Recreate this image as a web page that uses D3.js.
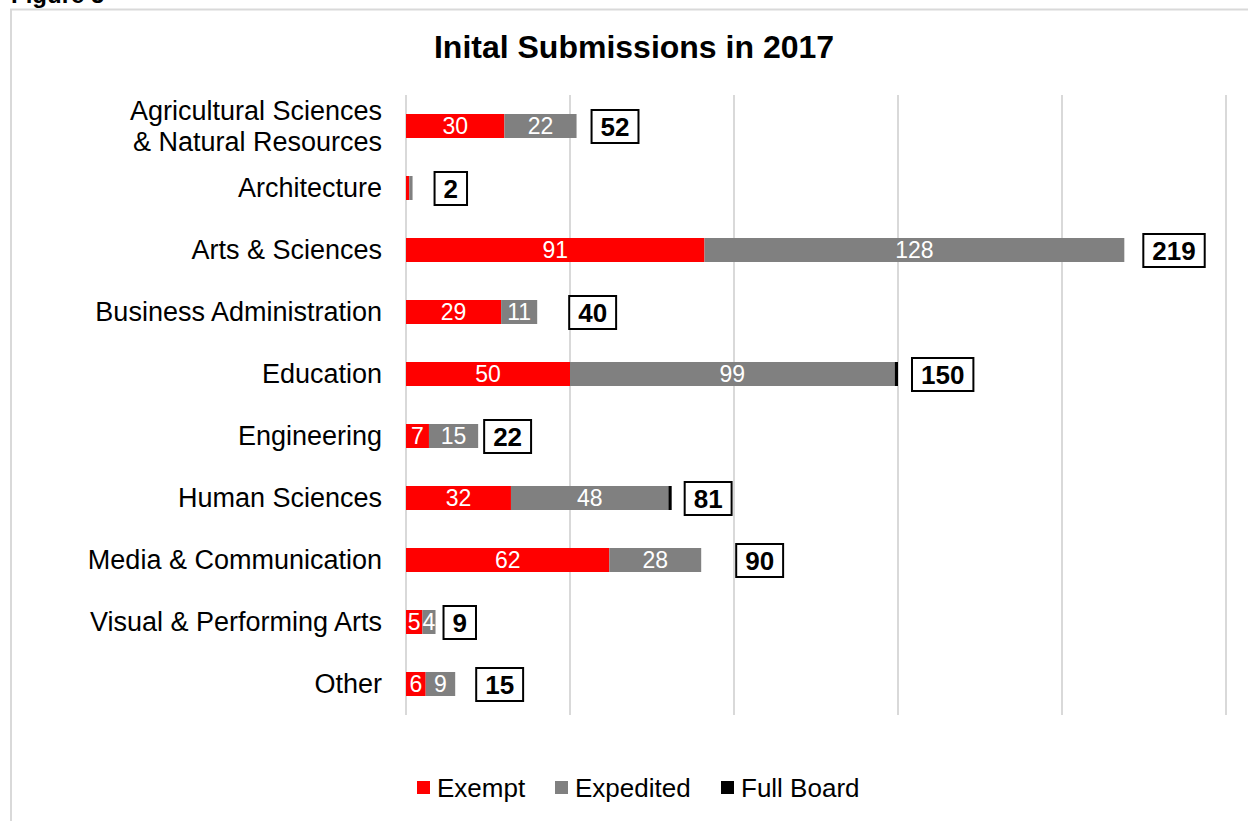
<!DOCTYPE html>
<html>
<head>
<meta charset="utf-8">
<script src="https://cdn.jsdelivr.net/npm/d3@7"></script>
<style>
  body { margin: 0; background: #fff; }
  text { font-family: "Liberation Sans", Arial, sans-serif; }
</style>
</head>
<body>
<svg id="chart" width="1248" height="821"></svg>
<script>
// ====================================================================
// data
var categories = [
  "Agricultural Sciences\n& Natural Resources",
  "Architecture",
  "Arts & Sciences",
  "Business Administration",
  "Education",
  "Engineering",
  "Human Sciences",
  "Media & Communication",
  "Visual & Performing Arts",
  "Other"
];
var exempt    = [30, 1, 91, 29, 50, 7, 32, 62, 5, 6];
var expedited = [22, 1, 128, 11, 99, 15, 48, 28, 4, 9];
var fullBoard = [0, 0, 0, 0, 1, 0, 1, 0, 0, 0];
var seriesNames = ["Exempt", "Expedited", "Full Board"];
var xTicks = [0, 50, 100, 150, 200, 250];

// ====================================================================
// layout
var svg = d3.select("#chart");
var plot_left = 406, plot_right = 1226, plot_top = 95, plot_bottom = 715;
var bar_height = 24;
// the total boxes sit a bit right of each bar, moved by hand in the original
var total_gap = [15, 22, 19, 32, 14, 6, 13, 35, 8, 21];
var colors = ["#ff0000", "#808080", "#000000"];

var x = d3.scaleLinear().domain([0, 250]).range([plot_left, plot_right]);
var y = d3.scaleBand().domain(categories).range([plot_top, plot_bottom]);

// frame
svg.append("path")
  .attr("d", "M11,830 L11,9.5 L1260,9.5")
  .attr("fill", "none")
  .attr("stroke", "#d9d9d9")
  .attr("stroke-width", 2);

svg.append("text")
  .attr("x", 11).attr("y", 3)
  .style("font-size", "24px").style("font-weight", "bold")
  .text("Figure 5");

svg.append("text")
  .attr("x", 634).attr("y", 58)
  .attr("text-anchor", "middle")
  .style("font-size", "32px").style("font-weight", "bold")
  .text("Inital Submissions in 2017");

// gridlines
svg.append("g").selectAll("line")
  .data(xTicks)
  .enter().append("line")
  .attr("x1", function(d) { return x(d); })
  .attr("x2", function(d) { return x(d); })
  .attr("y1", plot_top).attr("y2", plot_bottom)
  .attr("stroke", "#d9d9d9").attr("stroke-width", 2);

// category labels
var cat_group = svg.append("g");
categories.forEach(function(c) {
  var lines = c.split("\n");
  var cy = y(c) + y.bandwidth() / 2;
  var t = cat_group.append("text")
    .attr("x", 382)
    .attr("text-anchor", "end")
    .style("font-size", "27px")
    .attr("fill", "#000");
  lines.forEach(function(l, i) {
    t.append("tspan")
      .attr("x", 382)
      .attr("y", cy + 9 + (i - (lines.length - 1) / 2) * 31)
      .text(l);
  });
});

// stacked bars
var rows = categories.map(function(c, i) {
  return { cat: c, vals: [exempt[i], expedited[i], fullBoard[i]], gap: total_gap[i] };
});

var bar_group = svg.append("g");
rows.forEach(function(r) {
  var start = 0;
  var cy = y(r.cat) + y.bandwidth() / 2;
  r.vals.forEach(function(v, k) {
    if (v > 0) {
      bar_group.append("rect")
        .attr("x", x(start))
        .attr("y", cy - bar_height / 2)
        .attr("width", x(start + v) - x(start))
        .attr("height", bar_height)
        .attr("fill", colors[k]);
      if (v >= 2) {
        bar_group.append("text")
          .attr("x", (x(start) + x(start + v)) / 2)
          .attr("y", cy + 8)
          .attr("text-anchor", "middle")
          .attr("fill", "#fff")
          .style("font-size", "23px")
          .text(v);
      }
    }
    start += v;
  });

  // total box
  var bx = x(start) + r.gap;
  var lbl = bar_group.append("text")
    .attr("y", cy + 9.5)
    .style("font-size", "26px").style("font-weight", "bold")
    .text(start);
  var w = lbl.node().getComputedTextLength();
  bar_group.insert("rect", "text:last-child")
    .attr("x", bx).attr("y", cy - 16)
    .attr("width", w + 18).attr("height", 33)
    .attr("fill", "#fff").attr("stroke", "#000").attr("stroke-width", 2);
  lbl.raise().attr("x", bx + 9);
});

// legend
var legend_x = [417, 555, 721];
var legend = svg.append("g");
seriesNames.forEach(function(s, i) {
  legend.append("rect")
    .attr("x", legend_x[i]).attr("y", 781)
    .attr("width", 13).attr("height", 13)
    .attr("fill", colors[i]);
  legend.append("text")
    .attr("x", legend_x[i] + 20).attr("y", 797)
    .style("font-size", "26px")
    .text(s);
});
</script>
</body>
</html>
